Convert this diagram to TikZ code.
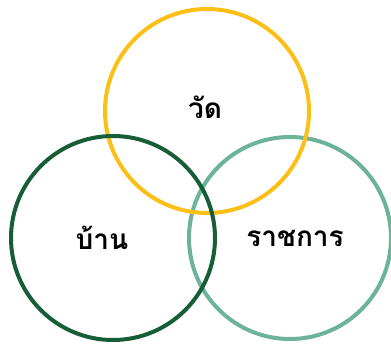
\documentclass[tikz,border=0pt]{standalone}
\usepackage{fontspec}
\newfontfamily\thaifont[Script=Thai]{Loma}
\definecolor{cyellow}{HTML}{FBBF16}
\definecolor{cdark}{HTML}{175E38}
\definecolor{clight}{HTML}{6DB39A}
\begin{document}
\begin{tikzpicture}[x=1pt,y=-1pt,
  ring/.style={line width=4pt},
  lbl/.style={font=\thaifont\bfseries\fontsize{28}{32}\selectfont, inner sep=0pt}]
\useasboundingbox (0,0) rectangle (391,343);
\draw[ring, clight] (290,238) circle (101);
\draw[ring, cyellow] (207,111) circle (102);
\draw[ring, cdark] (113,238) circle (102);
\node[lbl] (wat) at (205,107) {วัด};
\node[lbl] (baan) at (102,238) {บ้าน};
\node[lbl] (rat) at (295,238) {ราชการ};
\end{tikzpicture}
\end{document}
